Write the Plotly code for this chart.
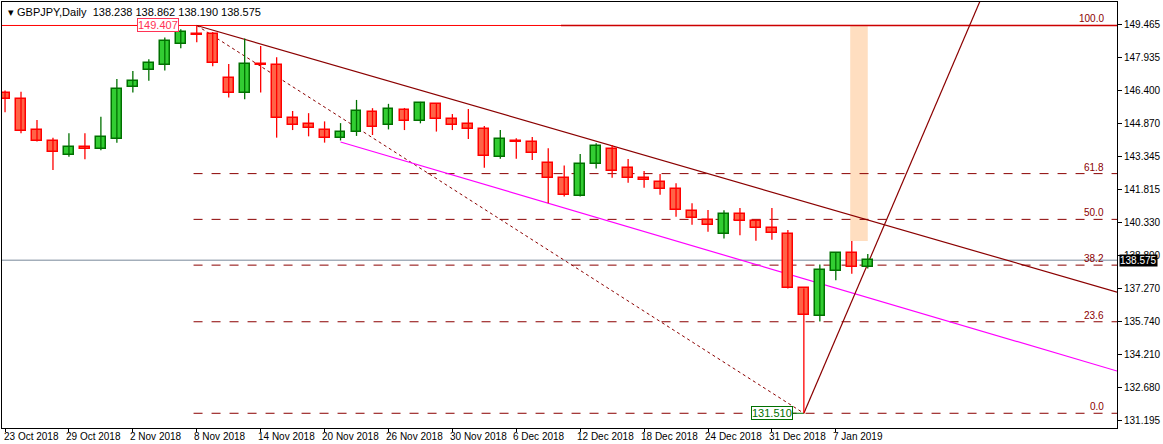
import plotly.graph_objects as go

opens  = [146.29,146.00,144.58,144.06,143.42,143.80,143.70,144.15,146.58,147.34,147.57,148.54,149.00,149.02,146.97,146.28,147.63,147.57,145.12,144.85,144.58,144.20,144.49,145.40,144.80,
          145.51,144.99,145.77,145.08,144.85,144.62,143.35,144.08,144.03,143.05,142.35,141.56,143.00,143.69,142.81,142.35,142.17,141.84,140.83,140.41,139.77,140.70,140.37,140.05,
          139.78,137.27,135.98,138.07,138.89,138.238]
highs  = [146.40,146.35,145.05,144.23,144.43,144.43,145.20,146.94,147.31,147.85,148.85,149.23,149.407,149.10,147.63,148.81,148.46,147.94,145.46,145.36,144.98,144.90,145.97,145.59,145.79,
          145.60,145.88,145.82,145.32,145.55,144.77,144.58,144.20,144.26,143.74,142.95,143.48,143.97,143.89,143.25,142.69,142.55,142.12,141.20,140.89,140.88,140.98,140.40,140.98,
          139.97,137.27,138.38,138.95,139.46,138.862]
lows   = [145.40,144.43,144.05,142.74,143.35,143.23,143.65,144.00,146.31,146.85,147.33,148.35,148.63,147.52,146.08,146.00,146.31,144.23,144.58,144.29,144.00,144.10,144.31,144.35,144.61,
          144.58,144.89,144.51,144.58,144.17,142.84,143.26,143.26,143.20,141.20,141.51,141.51,142.81,142.38,142.15,141.92,141.60,140.58,140.21,139.89,139.58,139.73,139.47,139.52,
          137.27,131.51,135.75,137.65,137.95,138.190]
closes = [146.00,144.55,144.06,143.55,143.80,143.71,144.26,146.46,146.85,147.68,148.69,149.09,148.98,147.68,146.28,147.63,147.60,145.12,144.80,144.66,144.20,144.49,145.46,144.72,145.56,
          144.99,145.82,145.08,144.80,144.62,143.40,144.15,144.05,143.51,142.35,141.60,143.00,143.83,142.68,142.35,142.26,141.84,140.87,140.50,140.18,140.70,140.37,140.05,139.82,
          137.30,136.03,138.10,138.89,138.24,138.575]
idx = list(range(len(opens)))

date_labels = ["23 Oct 2018","29 Oct 2018","2 Nov 2018","8 Nov 2018","14 Nov 2018","20 Nov 2018","26 Nov 2018",
               "30 Nov 2018","6 Dec 2018","12 Dec 2018","18 Dec 2018","24 Dec 2018","31 Dec 2018","7 Jan 2019"]
date_pos = [0,4,8,12,16,20,24,28,32,36,40,44,48,52]

y_ticks = [131.195,132.680,134.210,135.740,137.270,138.800,140.330,141.815,143.345,144.870,146.400,147.935,149.465]

swing_high, swing_low = 149.407, 131.51
high_i, low_i = 12, 50
fib_levels = [0.0, 23.6, 38.2, 50.0, 61.8, 100.0]
last_price = 138.575

XMIN, XMAX = -0.19, 69.6
DR = "#8B0000"
FONT = "Liberation Sans"
UPF, UPL, DNF, DNL = "#32CD32", "#007000", "#FF6347", "#FF0000"

fig = go.Figure()

def line(x0,y0,x1,y1,color,dash="solid",width=1):
    fig.add_shape(type="line",x0=x0,y0=y0,x1=x1,y1=y1,line=dict(color=color,dash=dash,width=width),layer="below")

for up in (True, False):
    sel = [i for i in idx if (closes[i] >= opens[i]) == up]
    wx, wy = [], []
    for i in sel:
        wx += [i, i, None]; wy += [lows[i], highs[i], None]
    fig.add_trace(go.Scatter(x=wx, y=wy, mode="lines", line=dict(color=UPL if up else DNL, width=1.3),
                             showlegend=False, hoverinfo="skip"))
    fig.add_trace(go.Bar(x=sel, base=[min(opens[i], closes[i]) for i in sel],
                         y=[max(abs(closes[i]-opens[i]), 0.03) for i in sel], width=0.62,
                         marker=dict(color=UPF if up else DNF, line=dict(color=UPL if up else DNL, width=1.5)),
                         showlegend=False, hoverinfo="skip"))

line(-1,last_price,XMAX,last_price,"#778899")
line(-1,swing_high,XMAX,swing_high,"#FF0000",width=1)
fig.add_shape(type="rect",x0=52.9,x1=54.0,y0=139.46,y1=swing_high,fillcolor="#FFDAB9",opacity=0.9,line=dict(width=0),layer="below")
for lv in fib_levels:
    p = swing_low + (swing_high-swing_low)*lv/100
    if lv == 100:
        line(34.8,p,XMAX,p,"#CC0000",width=1.5)
    else:
        line(high_i-0.2,p,XMAX,p,DR,dash="dash",width=1)
    fig.add_annotation(x=68.9,y=p,text=f"{lv:.1f}",showarrow=False,xanchor="right",yanchor="bottom",
                       font=dict(size=10,color=DR,family=FONT),yshift=-1)
line(high_i,swing_high,XMAX,137.10,DR,width=1.2)
line(high_i,swing_high,low_i,swing_low,DR,dash="dot",width=1)
line(21,144.03,XMAX,133.46,"#FF00FF",width=1.2)
line(low_i,swing_low,61.06,150.59,DR,width=1.2)
line(low_i-0.9,swing_low,low_i,swing_low,"#007000",width=1)

fig.add_annotation(x=high_i-1.1,y=swing_high,text="149.407",showarrow=False,xanchor="right",yanchor="middle",
                   font=dict(size=11,color="#FF3355",family=FONT),bordercolor="#FF3355",borderwidth=1,borderpad=0,bgcolor="white")
fig.add_annotation(x=low_i-0.7,y=swing_low,text="131.510",showarrow=False,xanchor="right",yanchor="middle",
                   font=dict(size=11,color="#007000",family=FONT),bordercolor="#007000",borderwidth=1,borderpad=0,bgcolor="white")
fig.add_annotation(xref="paper",x=1.0,y=last_price,text="138.575",showarrow=False,xanchor="left",yanchor="middle",
                   font=dict(size=10,color="white",family=FONT),bgcolor="black",borderpad=0,xshift=2)
fig.add_annotation(xref="paper",yref="paper",x=0.004,y=0.995,text="▾ GBPJPY,Daily  138.238 138.862 138.190 138.575",
                   showarrow=False,xanchor="left",yanchor="top",font=dict(size=11,color="black",family=FONT))
for pos,lab in zip(date_pos,date_labels):
    fig.add_annotation(x=max(pos-0.3, XMIN),yref="paper",y=0,text=lab,showarrow=False,xanchor="left",yanchor="top",yshift=-1,
                       font=dict(size=10,color="black",family=FONT))

fig.update_layout(width=1163,height=444,margin=dict(l=2,r=46,t=2,b=16),
    paper_bgcolor="white",plot_bgcolor="white",bargap=0,
    xaxis=dict(range=[XMIN,XMAX],showgrid=False,showticklabels=False,
               showline=True,linecolor="black",mirror=True,zeroline=False,tickvals=date_pos,ticks="outside",ticklen=3,tickcolor="black"),
    yaxis=dict(range=[130.83,150.49],side="right",tickvals=y_ticks,ticktext=[f"{v:.3f}" for v in y_ticks],showgrid=False,
               showline=True,linecolor="black",mirror=True,ticks="outside",ticklen=4,tickcolor="black",zeroline=False,
               tickfont=dict(size=10,color="black",family=FONT)))
fig.write_html("out.html", config={"displayModeBar": False},
               post_script="document.body.style.margin='0';document.body.style.overflow='hidden';")
